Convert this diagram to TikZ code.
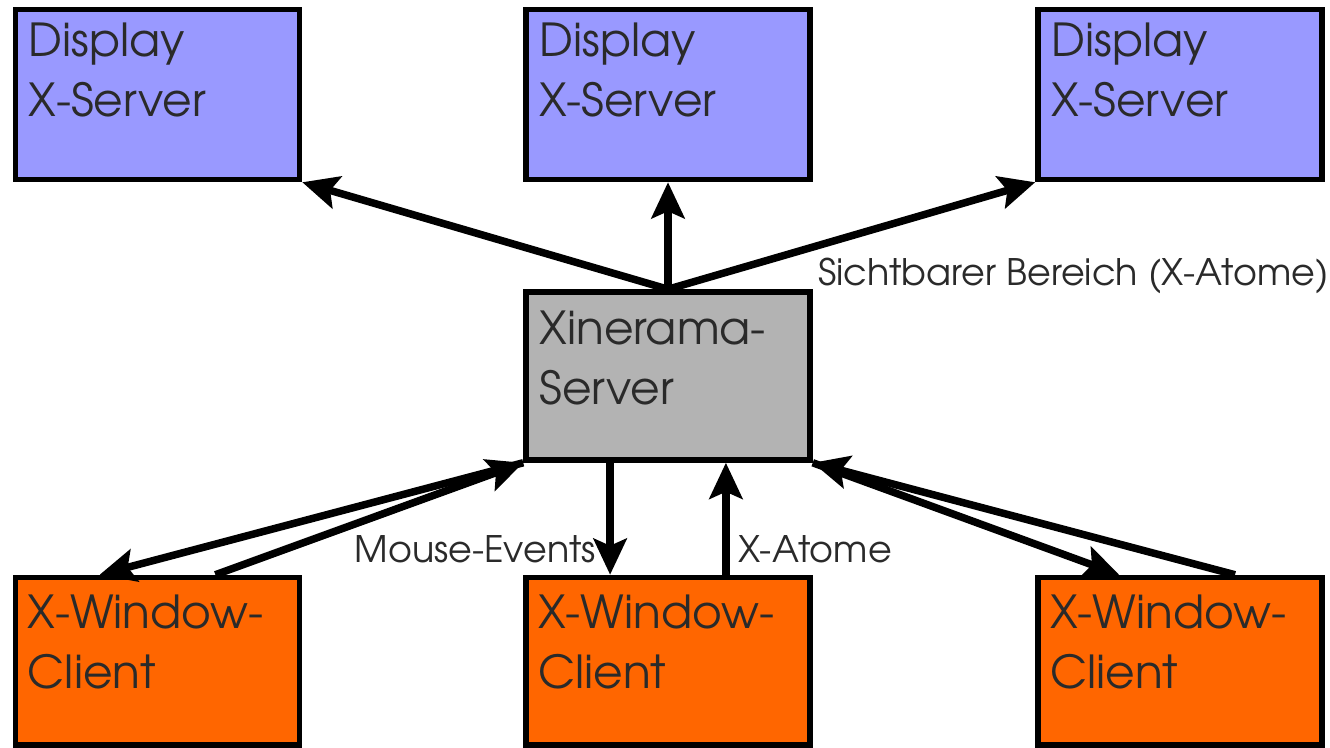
\documentclass[tikz,border=0pt]{standalone}
\usepackage{fontspec}
\setmainfont{texgyreadventor-regular.otf}
\usetikzlibrary{arrows.meta,calc}

\definecolor{displayfill}{HTML}{9999FF}
\definecolor{serverfill}{HTML}{B3B3B3}
\definecolor{clientfill}{HTML}{FF6600}
\definecolor{inktext}{HTML}{2A2A2A}

\begin{document}
\begin{tikzpicture}[x=1pt,y=-1pt,
  box/.style={draw=black, line width=5.5pt, rectangle, inner sep=0pt,
              minimum width=284pt, minimum height=170pt},
  displaybox/.style={box, fill=displayfill},
  serverbox/.style={box, fill=serverfill, minimum height=168pt},
  clientbox/.style={box, fill=clientfill, minimum height=167.5pt},
  boxtext/.style={anchor=north west, inner sep=0pt, align=left, text=inktext,
                  font=\fontsize{45.5}{60}\selectfont},
  edgetext/.style={inner sep=0pt, text=inktext, font=\fontsize{36.5}{40}\selectfont},
  conn/.style={line width=7.5pt, -{Stealth[length=36pt,width=33pt,inset=7pt]}}
]
\useasboundingbox (0,0) rectangle (1330,747);

% display servers
\node[displaybox] (d1) at (157.5,94.5) {};
\node[displaybox] (d2) at (668,94.5) {};
\node[displaybox] (d3) at (1180,94.5) {};
% xinerama server
\node[serverbox] (x) at (668,376) {};
% clients
\node[clientbox] (c1) at (157.5,661.25) {};
\node[clientbox] (c2) at (668,661.25) {};
\node[clientbox] (c3) at (1180,661.25) {};

% box captions
\node[boxtext] (d1t) at ($(d1.north west)+(16,16)$) {Display\\X-Server};
\node[boxtext] (d2t) at ($(d2.north west)+(16,16)$) {Display\\X-Server};
\node[boxtext] (d3t) at ($(d3.north west)+(16,16)$) {Display\\X-Server};
\node[boxtext] (xt)  at ($(x.north west)+(16,21)$)  {Xinerama-\\Server};
\node[boxtext] (c1t) at ($(c1.north west)+(15,20)$) {X-Window-\\Client};
\node[boxtext] (c2t) at ($(c2.north west)+(15,20)$) {X-Window-\\Client};
\node[boxtext] (c3t) at ($(c3.north west)+(15,20)$) {X-Window-\\Client};

% server to displays
\draw[conn] (x.north) -- (d1.south east);
\draw[conn] (x.north) -- (d2.south);
\draw[conn] (x.north) -- (d3.south west);

% server <-> clients
\draw[conn] (x.south west) -- ($(c1.north west)!0.3!(c1.north east)$);
\draw[conn] ($(c1.north west)!0.7!(c1.north east)$) -- (x.south west);
\draw[conn] ($(x.south west)!0.3!(x.south east)$) -- ($(c2.north west)!0.3!(c2.north east)$);
\draw[conn] ($(c2.north west)!0.7!(c2.north east)$) -- ($(x.south west)!0.7!(x.south east)$);
\draw[conn] (x.south east) -- ($(c3.north west)!0.29!(c3.north east)$);
\draw[conn] ($(c3.north west)!0.69!(c3.north east)$) -- (x.south east);

% edge labels
\node[edgetext, anchor=base west] (lvis) at (818,285) {Sichtbarer Bereich (X-Atome)};
\node[edgetext, anchor=base east] (lmouse) at (596,562) {Mouse-Events};
\node[edgetext, anchor=base west] (latom) at (738,562) {X-Atome};
\end{tikzpicture}
\end{document}
